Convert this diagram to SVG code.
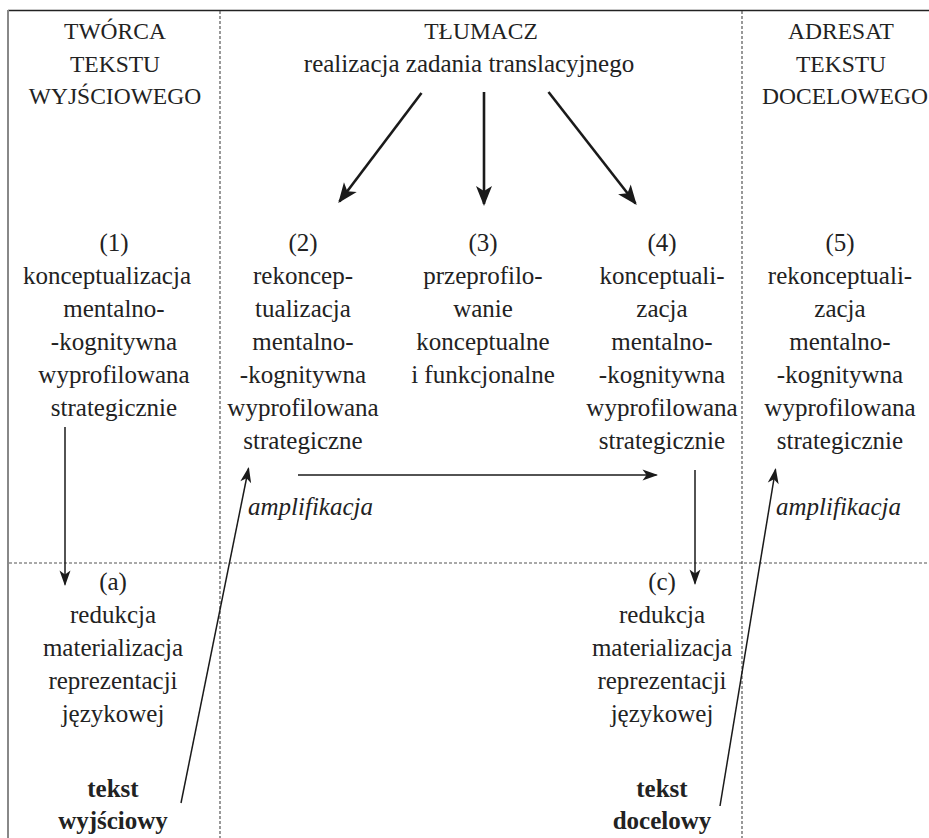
<svg xmlns="http://www.w3.org/2000/svg" width="929" height="838" viewBox="0 0 929 838">
<style>
text{font-family:'Liberation Serif',Tinos,'Times New Roman','Noto Serif','DejaVu Serif',serif;font-size:25px;fill:#222;text-anchor:middle}
.cap{font-size:23.5px}
.it{font-style:italic;text-anchor:start}
.b{font-weight:bold}
.dot{stroke:#555;stroke-width:1.2;stroke-dasharray:3 2;fill:none}
.thick{stroke:#1a1a1a;stroke-width:2.6;fill:none}
.thin{stroke:#1a1a1a;stroke-width:1.5;fill:none}
</style>
<defs>
<marker id="ah" markerUnits="userSpaceOnUse" orient="auto" overflow="visible" refX="0" refY="0">
<path d="M2,0 L-18,-8 L-13,0 L-18,8 Z" fill="#1a1a1a"/>
</marker>
<marker id="as" markerUnits="userSpaceOnUse" orient="auto" overflow="visible" refX="0" refY="0">
<path d="M1.5,0 L-14,-5.5 L-10,0 L-14,5.5 Z" fill="#1a1a1a"/>
</marker>
</defs>
<rect width="929" height="838" fill="#fff"/>
<g id="frame">
<line x1="8" y1="10.5" x2="929" y2="10.5" stroke="#222" stroke-width="1.6"/>
<line x1="8" y1="10" x2="8" y2="838" stroke="#888" stroke-width="2"/>
<line class="dot" x1="220" y1="11" x2="220" y2="838"/>
<line class="dot" x1="742" y1="11" x2="742" y2="838"/>
<line class="dot" x1="9" y1="563" x2="929" y2="563"/>
</g>
<g id="header-tworca">
<text class="cap" x="115" y="39">TWÓRCA</text>
<text class="cap" x="115" y="72">TEKSTU</text>
<text class="cap" x="115" y="104">WYJŚCIOWEGO</text>
</g>
<g id="header-tlumacz">
<text class="cap" x="481" y="39">TŁUMACZ</text>
<text x="469" y="72">realizacja zadania translacyjnego</text>
</g>
<g id="header-adresat">
<text class="cap" x="841" y="39">ADRESAT</text>
<text class="cap" x="841" y="72">TEKSTU</text>
<text class="cap" x="845" y="104">DOCELOWEGO</text>
</g>
<g id="node1">
<text x="114" y="251">(1)</text>
<text x="107" y="284">konceptualizacja</text>
<text x="114" y="317">mentalno-</text>
<text x="114" y="350">-kognitywna</text>
<text x="114" y="383">wyprofilowana</text>
<text x="114" y="416">strategicznie</text>
</g>
<g id="node2">
<text x="303" y="251">(2)</text>
<text x="303" y="284">rekoncep-</text>
<text x="303" y="317">tualizacja</text>
<text x="303" y="350">mentalno-</text>
<text x="303" y="383">-kognitywna</text>
<text x="303" y="416">wyprofilowana</text>
<text x="303" y="449">strategiczne</text>
</g>
<g id="node3">
<text x="483" y="251">(3)</text>
<text x="483" y="284">przeprofilo-</text>
<text x="483" y="317">wanie</text>
<text x="483" y="350">konceptualne</text>
<text x="483" y="383">i funkcjonalne</text>
</g>
<g id="node4">
<text x="662" y="251">(4)</text>
<text x="662" y="284">konceptuali-</text>
<text x="662" y="317">zacja</text>
<text x="662" y="350">mentalno-</text>
<text x="662" y="383">-kognitywna</text>
<text x="662" y="416">wyprofilowana</text>
<text x="662" y="449">strategicznie</text>
</g>
<g id="node5">
<text x="840" y="251">(5)</text>
<text x="840" y="284">rekonceptuali-</text>
<text x="840" y="317">zacja</text>
<text x="840" y="350">mentalno-</text>
<text x="840" y="383">-kognitywna</text>
<text x="840" y="416">wyprofilowana</text>
<text x="840" y="449">strategicznie</text>
</g>
<g id="label-amp1"><text class="it" x="248" y="515">amplifikacja</text></g>
<g id="label-amp2"><text class="it" x="776" y="515">amplifikacja</text></g>
<g id="nodeA">
<text x="113" y="590">(a)</text>
<text x="113" y="623">redukcja</text>
<text x="113" y="656">materializacja</text>
<text x="113" y="689">reprezentacji</text>
<text x="113" y="722">językowej</text>
<text class="b" x="113" y="797">tekst</text>
<text class="b" x="113" y="829">wyjściowy</text>
</g>
<g id="nodeC">
<text x="662" y="590">(c)</text>
<text x="662" y="623">redukcja</text>
<text x="662" y="656">materializacja</text>
<text x="662" y="689">reprezentacji</text>
<text x="662" y="722">językowej</text>
<text class="b" x="662" y="797">tekst</text>
<text class="b" x="662" y="829">docelowy</text>
</g>
<g id="connectors">
<line class="thick" x1="421.5" y1="93" x2="339.5" y2="201.5" marker-end="url(#ah)"/>
<line class="thick" x1="484" y1="92" x2="484" y2="204" marker-end="url(#ah)"/>
<line class="thick" x1="548.5" y1="92" x2="635.5" y2="203.5" marker-end="url(#ah)"/>
<line class="thin" x1="65" y1="427" x2="65" y2="584.5" marker-end="url(#as)"/>
<line class="thin" x1="181" y1="803" x2="248.5" y2="468.5" marker-end="url(#as)"/>
<line class="thin" x1="298" y1="475" x2="656.5" y2="475" marker-end="url(#as)"/>
<line class="thin" x1="695" y1="470" x2="695" y2="583.5" marker-end="url(#as)"/>
<line class="thin" x1="720" y1="806" x2="775.5" y2="469.5" marker-end="url(#as)"/>
</g>
</svg>
